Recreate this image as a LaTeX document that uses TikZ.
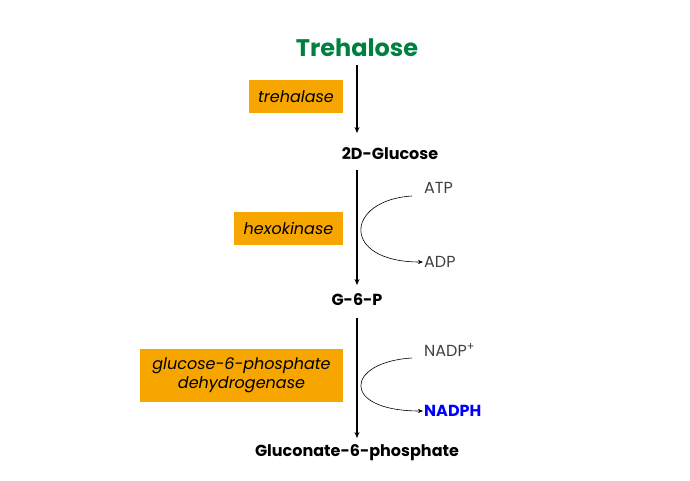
\documentclass[tikz,border=0pt]{standalone}
\usepackage{fontspec}
\setmainfont{Poppins}
\usetikzlibrary{arrows.meta}
\definecolor{tgreen}{RGB}{0,128,64}
\definecolor{enzbg}{RGB}{247,166,0}
\begin{document}
\begin{tikzpicture}[x=1pt,y=-1pt,
  met/.style={font=\fontsize{16}{18}\selectfont\bfseries,inner sep=1pt},
  enz/.style={fill=enzbg,font=\fontsize{16}{19}\selectfont\itshape,align=center,inner sep=2pt},
  cof/.style={font=\fontsize{16}{18}\selectfont,text=black!75,inner sep=1pt},
  arr/.style={-{Stealth[length=6pt,width=5pt]},line width=1.1pt},
  carr/.style={-{Stealth[length=5pt,width=4pt]},line width=0.6pt}]
\useasboundingbox (0,0) rectangle (690,480);
\node[font=\fontsize{24}{26}\selectfont\bfseries,text=tgreen] (tre) at (357,48) {Trehalose};
\node[met] (glc) at (390,154) {2D-Glucose};
\node[met] (g6p) at (357,300) {G-6-P};
\node[met] (gnp) at (357,453) {Gluconate-6-phosphate};
\coordinate (a1) at (357,65); \coordinate (b1) at (357,133);
\coordinate (a2) at (357,170); \coordinate (b2) at (357,285);
\coordinate (a3) at (357,318); \coordinate (b3) at (357,438);
\draw[arr] (a1) -- (b1);
\draw[arr] (a2) -- (b2);
\draw[arr] (a3) -- (b3);
\node[enz,minimum width=94pt,minimum height=33pt] (e1) at (296,96.5) {trehalase};
\node[enz,minimum width=109pt,minimum height=33pt] (e2) at (288.5,228.5) {hexokinase};
\node[enz,minimum width=203pt,minimum height=53pt] (e3) at (241.5,375.5) {glucose-6-phosphate\\dehydrogenase};
\node[cof,anchor=west] (atp) at (423,188) {ATP};
\node[cof,anchor=west] (adp) at (423,262) {ADP};
\node[cof,anchor=west] (nadp) at (423,350) {NADP\textsuperscript{+}};
\node[anchor=west,font=\fontsize{16}{18}\selectfont\bfseries,text=blue,inner sep=1pt] (nadph) at (423,411) {NADPH};
\draw[carr] (412,196) .. controls (345,200) and (340,262) .. (adp.west);
\draw[carr] (412,358) .. controls (345,362) and (340,411) .. (nadph.west);
\end{tikzpicture}
\end{document}
